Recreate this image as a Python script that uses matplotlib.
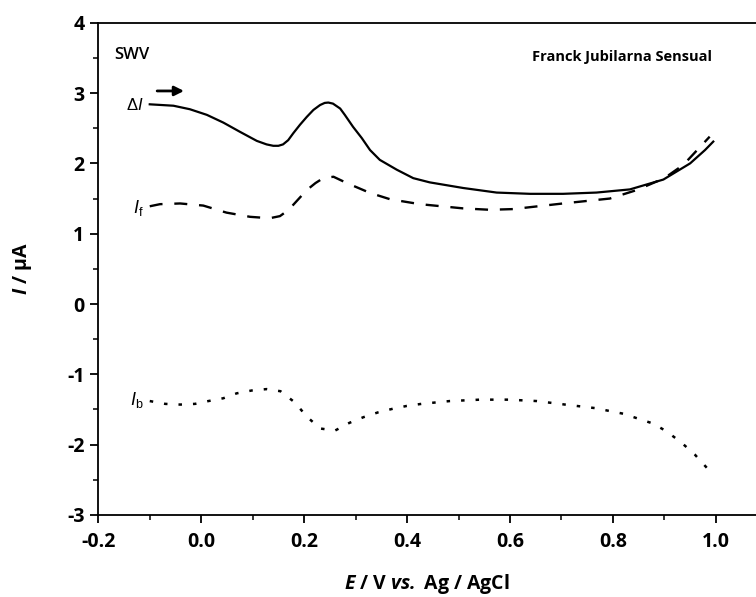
import numpy as np
import matplotlib
matplotlib.use("Agg")
import matplotlib.pyplot as plt
from matplotlib.ticker import MultipleLocator

plt.rcParams['font.family'] = ['Open Sans', 'DejaVu Sans']
plt.rcParams['axes.unicode_minus'] = False
plt.rcParams['mathtext.fontset'] = 'custom'
plt.rcParams['mathtext.rm'] = 'Liberation Sans'
plt.rcParams['mathtext.it'] = 'Liberation Sans:italic'
plt.rcParams['mathtext.bf'] = 'Open Sans:bold'
plt.rcParams['mathtext.bfit'] = 'Open Sans:italic:bold'

# delta I (solid)
E_dI = [-0.10, -0.054, -0.022, 0.011, 0.043, 0.075, 0.108, 0.127, 0.14, 0.150,
        0.159, 0.169, 0.179, 0.192, 0.205, 0.218, 0.231, 0.24, 0.247, 0.256,
        0.27, 0.279, 0.295, 0.312, 0.328, 0.347, 0.38, 0.412, 0.444, 0.509,
        0.574, 0.639, 0.703, 0.768, 0.833, 0.898, 0.95, 0.979, 0.995]
I_dI = [2.84, 2.82, 2.77, 2.69, 2.58, 2.45, 2.32, 2.27, 2.25, 2.25,
        2.27, 2.33, 2.43, 2.55, 2.66, 2.76, 2.83, 2.86, 2.865, 2.85,
        2.78, 2.69, 2.52, 2.36, 2.19, 2.05, 1.91, 1.79, 1.73, 1.65,
        1.585, 1.567, 1.567, 1.585, 1.63, 1.77, 2.0, 2.19, 2.31]

# forward current (dashed)
E_f = [-0.10, -0.08, -0.041, 0.004, 0.049, 0.095, 0.133, 0.153, 0.17, 0.185,
       0.205, 0.222, 0.237, 0.257, 0.283, 0.328, 0.367, 0.425, 0.509, 0.561,
       0.606, 0.703, 0.794, 0.846, 0.90, 0.937, 0.988]
I_f = [1.39, 1.42, 1.43, 1.40, 1.30, 1.24, 1.22, 1.25, 1.34, 1.46,
       1.62, 1.72, 1.79, 1.81, 1.72, 1.58, 1.49, 1.42, 1.36, 1.34,
       1.35, 1.43, 1.50, 1.62, 1.79, 1.98, 2.38]

# backward current (dotted)
E_b = [-0.10, -0.07, -0.041, -0.012, 0.014, 0.043, 0.069, 0.098, 0.127, 0.154,
       0.182, 0.205, 0.231, 0.26, 0.288, 0.315, 0.344, 0.372, 0.399, 0.428,
       0.483, 0.542, 0.597, 0.652, 0.707, 0.765, 0.82, 0.849, 0.878, 0.904,
       0.933, 0.959, 0.985]
I_b = [-1.38, -1.42, -1.43, -1.42, -1.38, -1.34, -1.27, -1.23, -1.21, -1.24,
       -1.40, -1.60, -1.77, -1.80, -1.69, -1.61, -1.54, -1.49, -1.45, -1.42,
       -1.38, -1.36, -1.36, -1.38, -1.43, -1.48, -1.56, -1.63, -1.70, -1.81,
       -1.97, -2.14, -2.35]

xticks = [-0.2, 0.0, 0.2, 0.4, 0.6, 0.8, 1.0]
yticks = [-3, -2, -1, 0, 1, 2, 3, 4]

fig = plt.figure(figsize=(7.56, 5.97), dpi=100)
ax = fig.add_axes([0.130, 0.1374, 0.870, 0.8245])

ax.plot(E_dI, I_dI, color='k', lw=1.6, solid_joinstyle='round')
ax.plot(E_f, I_f, color='k', lw=1.7, linestyle=(0, (5.5, 5)))
ax.plot(E_b, I_b, color='k', lw=1.8, linestyle=(0, (1.4, 4.4)))

ax.set_xlim(-0.2, 1.078)
ax.set_ylim(-3, 4)
ax.set_xticks(xticks)
ax.set_xticklabels(['%.1f' % v for v in xticks])
ax.set_yticks(yticks)
ax.set_yticklabels([str(v) for v in yticks])
ax.xaxis.set_minor_locator(MultipleLocator(0.1))
ax.yaxis.set_minor_locator(MultipleLocator(0.5))
ax.tick_params(which='major', direction='out', length=6, width=1.3, labelsize=14, pad=6)
ax.tick_params(which='minor', direction='out', length=3.8, width=1.1)
ax.tick_params(axis='y', which='major', pad=4)
for lab in ax.get_xticklabels() + ax.get_yticklabels():
    lab.set_fontweight('bold')

ax.spines['right'].set_visible(False)
for s in ['left', 'bottom', 'top']:
    ax.spines[s].set_linewidth(1.3)

ax.set_xlabel(r'$\mathbfit{E}$ / V $\mathbfit{vs.}$ Ag / AgCl', fontsize=14,
              fontweight='bold', va='center')
ax.xaxis.set_label_coords(0.5, -0.140)
ax.set_ylabel(r'$\mathbfit{I}$ / µA', fontsize=14, fontweight='bold', va='center')
ax.yaxis.set_label_coords(-0.1145, 0.5)

ax.text(0.024, 0.935, 'SWV', transform=ax.transAxes, fontsize=12,
        fontweight='semibold', va='center', ha='left')
ax.text(0.660, 0.93, 'Franck Jubilarna Sensual', transform=ax.transAxes,
        fontsize=10.5, fontweight='bold', va='center', ha='left')

ax.annotate('', xy=(-0.028, 3.03), xytext=(-0.091, 3.03),
            arrowprops=dict(arrowstyle='-|>', lw=2, color='k', mutation_scale=14))

ax.text(-0.112, 2.82, r'$\Delta \mathit{I}$', fontsize=12, ha='right', va='center')
ax.text(-0.112, 1.37, r'$\mathit{I}_{\rm f}$', fontsize=13, ha='right', va='center')
ax.text(-0.112, -1.37, r'$\mathit{I}_{\rm b}$', fontsize=13, ha='right', va='center')

fig.savefig('out.png', dpi=100)
